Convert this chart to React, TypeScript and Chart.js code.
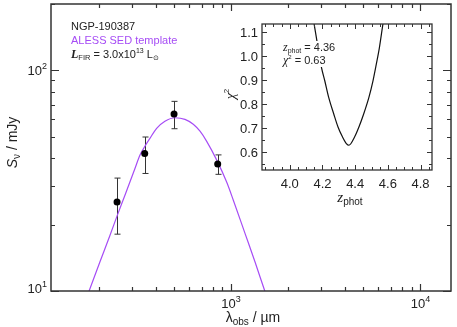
import React, { useEffect, useRef } from "react";
import { Chart, registerables } from "chart.js";
Chart.register(...registerables);

const SANS = '"Liberation Sans", Arial, Helvetica, sans-serif';
const SERIF = '"Liberation Serif", "Times New Roman", serif';
const PURPLE = "#a64cf5";
const INK = "#222";

// SED template curve (observed wavelength in µm, flux in mJy)
const sedWavelength = [158.9, 178.0, 202.7, 229.0, 250.2, 274.9, 310.5, 330.0, 350.8, 372.8, 404.6, 447.6, 505.4, 571.0, 631.7, 685.5, 743.7, 840.3, 948.9, 1028, 1186, 1340, 1501, 1817];
const sedFlux = [7.71, 10.0, 13.5, 17.8, 21.9, 27.1, 35.8, 41.2, 45.3, 49.2, 54.6, 58.8, 61.0, 60.0, 57.0, 53.0, 47.7, 39.2, 31.1, 25.8, 18.2, 13.5, 10.1, 6.3];

// Photometry
const photWavelength = [250, 350, 500, 850];
const photFlux = [25.3, 42.0, 63.4, 37.6];
const photErr = [7.2, 7.9, 9.0, 3.8];

// Main axes
const xRange = [112, 14500];
const yRange = [10, 200];
const xMajorTicks = [1000, 10000];
const xMajorLabels = [["10", "3"], ["10", "4"]];
const yMajorTicks = [10, 100];
const yMajorLabels = [["10", "1"], ["10", "2"]];

// Inset chi^2 curve
const chiZ = [4.133, 4.153, 4.173, 4.194, 4.214, 4.238, 4.269, 4.295, 4.322, 4.346, 4.362, 4.397, 4.423, 4.452, 4.484, 4.509, 4.529, 4.548, 4.566, 4.584];
const chiVal = [1.2, 1.117, 1.035, 0.953, 0.898, 0.829, 0.76, 0.706, 0.665, 0.637, 0.63, 0.665, 0.706, 0.76, 0.829, 0.898, 0.966, 1.035, 1.117, 1.2];
const insetXRange = [3.83, 4.87];
const insetYRange = [0.527, 1.134];
const insetXTicks = [4.0, 4.2, 4.4, 4.6, 4.8];
const insetYTicks = [0.6, 0.7, 0.8, 0.9, 1.0, 1.1];

type Run = { t: string; f: string; dy?: number; c?: string };

function runsWidth(ctx: CanvasRenderingContext2D, runs: Run[]) {
  let w = 0;
  for (const r of runs) {
    ctx.font = r.f;
    w += ctx.measureText(r.t).width;
  }
  return w;
}

function drawRuns(ctx: CanvasRenderingContext2D, runs: Run[], x: number, y: number, align: "left" | "center" | "right") {
  const w = runsWidth(ctx, runs);
  let cx = align === "left" ? x : align === "center" ? x - w / 2 : x - w;
  ctx.textAlign = "left";
  ctx.textBaseline = "alphabetic";
  for (const r of runs) {
    ctx.font = r.f;
    ctx.fillStyle = r.c || INK;
    ctx.fillText(r.t, cx, y + (r.dy || 0));
    cx += ctx.measureText(r.t).width;
  }
}

const mainPlugin = {
  id: "mainDecor",
  beforeDatasetsDraw(chart: any) {
    const ctx = chart.ctx as CanvasRenderingContext2D;
    const xs = chart.scales.x;
    const ys = chart.scales.y;
    ctx.save();
    ctx.strokeStyle = "#333";
    ctx.lineWidth = 1;
    for (let i = 0; i < photWavelength.length; i++) {
      const px = Math.round(xs.getPixelForValue(photWavelength[i])) + 0.5;
      const yt = ys.getPixelForValue(photFlux[i] + photErr[i]);
      const yb = ys.getPixelForValue(photFlux[i] - photErr[i]);
      ctx.beginPath();
      ctx.moveTo(px, yt);
      ctx.lineTo(px, yb);
      ctx.moveTo(px - 3, yt);
      ctx.lineTo(px + 3, yt);
      ctx.moveTo(px - 3, yb);
      ctx.lineTo(px + 3, yb);
      ctx.stroke();
    }
    ctx.restore();
  },
  afterDraw(chart: any) {
    const ctx = chart.ctx as CanvasRenderingContext2D;
    const { left, right, top, bottom } = chart.chartArea;
    const xs = chart.scales.x;
    const ys = chart.scales.y;
    ctx.save();
    ctx.strokeStyle = "#333";
    ctx.lineWidth = 1.5;
    ctx.strokeRect(left, top, right - left, bottom - top);
    ctx.lineWidth = 1.2;
    ctx.beginPath();
    // y ticks
    for (let d = 1; d <= 1000; d *= 10) {
      for (let m = 1; m < 10; m++) {
        const v = m * d;
        if (v < yRange[0] || v > yRange[1]) continue;
        const py = Math.round(ys.getPixelForValue(v)) + 0.5;
        const len = m === 1 ? 8 : 4;
        ctx.moveTo(left, py);
        ctx.lineTo(left + len, py);
        ctx.moveTo(right, py);
        ctx.lineTo(right - len, py);
      }
    }
    // x ticks
    for (let d = 10; d <= 100000; d *= 10) {
      for (let m = 1; m < 10; m++) {
        const v = m * d;
        if (v < xRange[0] || v > xRange[1]) continue;
        const px = Math.round(xs.getPixelForValue(v)) + 0.5;
        const len = m === 1 ? 7 : 4;
        ctx.moveTo(px, bottom);
        ctx.lineTo(px, bottom - len);
        ctx.moveTo(px, top);
        ctx.lineTo(px, top + len);
      }
    }
    ctx.stroke();

    const big = `13px ${SANS}`;
    const sup = `9px ${SANS}`;
    yMajorTicks.forEach((v, i) => {
      const py = Math.min(ys.getPixelForValue(v), bottom - 3);
      const lab = yMajorLabels[i];
      drawRuns(ctx, [{ t: lab[0], f: big }, { t: lab[1], f: sup, dy: -6 }], left - 4, py + 4.5, "right");
    });
    xMajorTicks.forEach((v, i) => {
      const px = xs.getPixelForValue(v);
      const lab = xMajorLabels[i];
      drawRuns(ctx, [{ t: lab[0], f: big }, { t: lab[1], f: sup, dy: -6 }], px, bottom + 17, "center");
    });

    // axis titles
    drawRuns(
      ctx,
      [
        { t: "λ", f: `14px ${SANS}` },
        { t: "obs", f: `10px ${SANS}`, dy: 3 },
        { t: " / µm", f: `14px ${SANS}` },
      ],
      (left + right) / 2 + 2,
      bottom + 31,
      "center"
    );
    ctx.save();
    ctx.translate(12, (top + bottom) / 2 - 5);
    ctx.rotate(-Math.PI / 2);
    drawRuns(
      ctx,
      [
        { t: "S", f: `italic 14px ${SANS}` },
        { t: "ν", f: `10px ${SANS}`, dy: 3 },
        { t: " / mJy", f: `14px ${SANS}` },
      ],
      0,
      5,
      "center"
    );
    ctx.restore();

    // legend text
    drawRuns(ctx, [{ t: "NGP-190387", f: `11px ${SANS}` }], 71, 30, "left");
    drawRuns(ctx, [{ t: "ALESS SED template", f: `11px ${SANS}`, c: PURPLE }], 71, 44, "left");
    drawRuns(
      ctx,
      [
        { t: "L", f: `bold italic 12px ${SERIF}` },
        { t: "FIR", f: `7.5px ${SANS}`, dy: 2 },
        { t: " = 3.0x10", f: `11px ${SANS}` },
        { t: "13", f: `7px ${SANS}`, dy: -5 },
        { t: " L", f: `11px ${SANS}` },
        { t: "⊙", f: `7px "DejaVu Sans", sans-serif`, dy: 2 },
      ],
      71,
      58,
      "left"
    );
    ctx.restore();
  },
};

const insetPlugin = {
  id: "insetDecor",
  beforeDraw(chart: any) {
    const ctx = chart.ctx as CanvasRenderingContext2D;
    const { left, right, top, bottom } = chart.chartArea;
    ctx.save();
    ctx.fillStyle = "#fff";
    ctx.fillRect(left, top, right - left, bottom - top);
    ctx.restore();
  },
  afterDraw(chart: any) {
    const ctx = chart.ctx as CanvasRenderingContext2D;
    const { left, right, top, bottom } = chart.chartArea;
    const xs = chart.scales.x;
    const ys = chart.scales.y;
    ctx.save();
    // text box
    ctx.fillStyle = "#fff";
    ctx.fillRect(282, 41, 56, 26);
    drawRuns(
      ctx,
      [
        { t: "z", f: `italic 12px ${SERIF}` },
        { t: "phot", f: `7px ${SANS}`, dy: 2 },
        { t: " = 4.36", f: `11px ${SANS}` },
      ],
      283,
      51,
      "left"
    );
    drawRuns(
      ctx,
      [
        { t: "χ", f: `italic 12px ${SERIF}` },
        { t: "2", f: `6px ${SANS}`, dy: -5 },
        { t: " = 0.63", f: `11px ${SANS}` },
      ],
      283,
      64,
      "left"
    );

    ctx.strokeStyle = "#333";
    ctx.lineWidth = 1.3;
    ctx.strokeRect(left, top, right - left, bottom - top);
    ctx.lineWidth = 1;
    ctx.beginPath();
    for (let k = 0; k <= 40; k++) {
      const v = 3.8 + k * 0.05;
      if (v < insetXRange[0] || v > insetXRange[1]) continue;
      const px = Math.round(xs.getPixelForValue(v)) + 0.5;
      const major = Math.abs(Math.round(v * 5) - v * 5) < 1e-6;
      const len = major ? 5 : 3;
      ctx.moveTo(px, bottom);
      ctx.lineTo(px, bottom - len);
      ctx.moveTo(px, top);
      ctx.lineTo(px, top + len);
    }
    for (let k = 0; k <= 30; k++) {
      const v = 0.5 + k * 0.05;
      if (v < insetYRange[0] || v > insetYRange[1]) continue;
      const py = Math.round(ys.getPixelForValue(v)) + 0.5;
      const major = Math.abs(Math.round(v * 10) - v * 10) < 1e-6;
      const len = major ? 5 : 3;
      ctx.moveTo(left, py);
      ctx.lineTo(left + len, py);
      ctx.moveTo(right, py);
      ctx.lineTo(right - len, py);
    }
    ctx.stroke();

    const lab = `13px ${SANS}`;
    insetYTicks.forEach((v) => {
      drawRuns(ctx, [{ t: v.toFixed(1), f: lab }], left - 4, ys.getPixelForValue(v) + 4.5, "right");
    });
    insetXTicks.forEach((v) => {
      drawRuns(ctx, [{ t: v.toFixed(1), f: lab }], xs.getPixelForValue(v), bottom + 18, "center");
    });
    drawRuns(
      ctx,
      [
        { t: "z", f: `italic 15px ${SERIF}` },
        { t: "phot", f: `10px ${SANS}`, dy: 3 },
      ],
      (left + right) / 2 + 3,
      bottom + 32,
      "center"
    );
    ctx.save();
    ctx.translate(231, (top + bottom) / 2 - 3);
    ctx.rotate(-Math.PI / 2);
    drawRuns(
      ctx,
      [
        { t: "χ", f: `italic 14px ${SERIF}` },
        { t: "2", f: `8px ${SANS}`, dy: -6 },
      ],
      0,
      4,
      "center"
    );
    ctx.restore();
    ctx.restore();
  },
};

export default function App() {
  const mainRef = useRef<HTMLCanvasElement>(null);
  const insetRef = useRef<HTMLCanvasElement>(null);

  useEffect(() => {
    document.body.style.margin = "0";
    const main = new Chart(mainRef.current as HTMLCanvasElement, {
      type: "line",
      data: {
        datasets: [
          {
            label: "photometry",
            data: photWavelength.map((w, i) => ({ x: w, y: photFlux[i] })),
            showLine: false,
            pointRadius: 3.5,
            pointBackgroundColor: "#000",
            pointBorderColor: "#000",
            pointBorderWidth: 0,
          },
          {
            label: "ALESS SED template",
            data: sedWavelength.map((w, i) => ({ x: w, y: sedFlux[i] })),
            borderColor: PURPLE,
            borderWidth: 1.2,
            pointRadius: 0,
            cubicInterpolationMode: "monotone",
            fill: false,
          },
        ],
      },
      options: {
        responsive: false,
        animation: false,
        devicePixelRatio: 1,
        layout: { padding: { left: 51, top: 4, right: 6, bottom: 36 } },
        scales: {
          x: { type: "logarithmic", min: xRange[0], max: xRange[1], display: false },
          y: { type: "logarithmic", min: yRange[0], max: yRange[1], display: false },
        },
        plugins: { legend: { display: false }, tooltip: { enabled: false } },
      },
      plugins: [mainPlugin],
    } as any);

    const inset = new Chart(insetRef.current as HTMLCanvasElement, {
      type: "line",
      data: {
        datasets: [
          {
            label: "chi2",
            data: chiZ.map((z, i) => ({ x: z, y: chiVal[i] })),
            borderColor: "#111",
            borderWidth: 1.2,
            pointRadius: 0,
            cubicInterpolationMode: "monotone",
            fill: false,
          },
        ],
      },
      options: {
        responsive: false,
        animation: false,
        devicePixelRatio: 1,
        layout: { padding: { left: 262, top: 24, right: 25, bottom: 157 } },
        scales: {
          x: { type: "linear", min: insetXRange[0], max: insetXRange[1], display: false },
          y: { type: "linear", min: insetYRange[0], max: insetYRange[1], display: false },
        },
        plugins: { legend: { display: false }, tooltip: { enabled: false } },
      },
      plugins: [insetPlugin],
    } as any);

    return () => {
      main.destroy();
      inset.destroy();
    };
  }, []);

  const cs: React.CSSProperties = { position: "absolute", left: 0, top: 0, width: 457, height: 327 };
  return (
    <div style={{ position: "relative", width: 457, height: 327, background: "#fff" }}>
      <canvas ref={mainRef} width={457} height={327} style={cs} />
      <canvas ref={insetRef} width={457} height={327} style={{ ...cs, pointerEvents: "none" }} />
    </div>
  );
}
